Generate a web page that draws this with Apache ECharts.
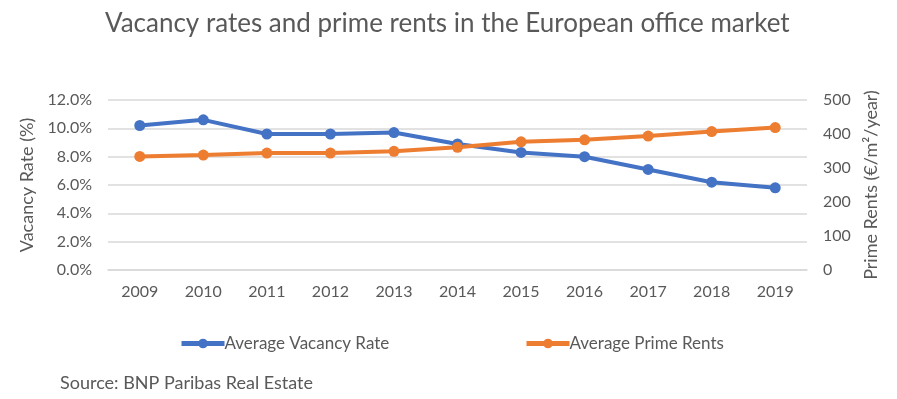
<!DOCTYPE html>
<html>
<head>
<meta charset="utf-8">
<script src="https://cdn.jsdelivr.net/npm/echarts@6/dist/echarts.min.js"></script>
<style>
html, body { margin: 0; padding: 0; background: #fff; }
#main { width: 897px; height: 399px; }
</style>
</head>
<body>
<div id="main"></div>
<script>
var years = ['2009','2010','2011','2012','2013','2014','2015','2016','2017','2018','2019'];
var vacancyRate = [10.2, 10.6, 9.6, 9.6, 9.7, 8.9, 8.3, 8.0, 7.1, 6.2, 5.8];
var primeRents = [334, 338, 344, 344, 349, 361, 377, 383, 394, 407, 419];

var FONT = 'Lato';
var GREY = '#595959';

var option = {
    animation: false,
    backgroundColor: '#fff',
    title: {
        text: 'Vacancy rates and prime rents in the European office market',
        left: 100,
        top: 6,
        textStyle: { fontFamily: FONT, fontSize: 26, fontWeight: 'normal', color: GREY }
    },
    graphic: [{
        type: 'text',
        left: 60,
        top: 374,
        style: { text: 'Source: BNP Paribas Real Estate', fontFamily: FONT, fontSize: 18, fill: GREY }
    }],
    legend: [
        {
            data: ['Average Vacancy Rate'],
            left: 174, top: 330,
            itemWidth: 43, itemHeight: 12, itemGap: 0,
            lineStyle: { width: 5 },
            textStyle: { fontFamily: FONT, fontSize: 17, color: GREY, padding: [0, 0, 0, -5] }
        },
        {
            data: ['Average Prime Rents'],
            left: 519, top: 330,
            itemWidth: 43, itemHeight: 12, itemGap: 0,
            lineStyle: { width: 5 },
            textStyle: { fontFamily: FONT, fontSize: 17, color: GREY, padding: [0, 0, 0, -5] }
        }
    ],
    grid: { left: 108, right: 90, top: 100, bottom: 129 },
    xAxis: {
        type: 'category',
        data: years,
        boundaryGap: true,
        axisLine: { show: true, lineStyle: { color: '#d9d9d9', width: 1.5 } },
        axisTick: { show: false },
        axisLabel: { fontFamily: FONT, fontSize: 16, color: GREY, margin: 14 }
    },
    yAxis: [
        {
            type: 'value',
            min: 0, max: 12, interval: 2,
            name: 'Vacancy Rate (%)',
            nameLocation: 'middle',
            nameGap: 68,
            nameTextStyle: { fontFamily: FONT, fontSize: 18, color: GREY },
            axisLabel: {
                fontFamily: FONT, fontSize: 16, color: GREY, margin: 16,
                formatter: function (v) { return v.toFixed(1) + '%'; }
            },
            splitLine: { lineStyle: { color: '#d9d9d9', width: 1.5 } }
        },
        {
            type: 'value',
            min: 0, max: 500, interval: 100,
            name: 'Prime Rents (€/m²/year)',
            nameLocation: 'middle',
            nameGap: 48,
            nameRotate: 90,
            nameTextStyle: { fontFamily: FONT, fontSize: 18, color: GREY },
            axisLabel: { fontFamily: FONT, fontSize: 16, color: GREY, margin: 16 },
            splitLine: { show: false }
        }
    ],
    series: [
        {
            name: 'Average Vacancy Rate',
            type: 'line',
            yAxisIndex: 0,
            data: vacancyRate,
            symbol: 'circle',
            symbolSize: 11,
            itemStyle: { color: '#4472C4' },
            lineStyle: { color: '#4472C4', width: 4 }
        },
        {
            name: 'Average Prime Rents',
            type: 'line',
            yAxisIndex: 1,
            data: primeRents,
            symbol: 'circle',
            symbolSize: 11,
            itemStyle: { color: '#ED7D31' },
            lineStyle: { color: '#ED7D31', width: 4 }
        }
    ]
};

var myChart = echarts.init(document.getElementById('main'));
myChart.setOption(option);
</script>
</body>
</html>
